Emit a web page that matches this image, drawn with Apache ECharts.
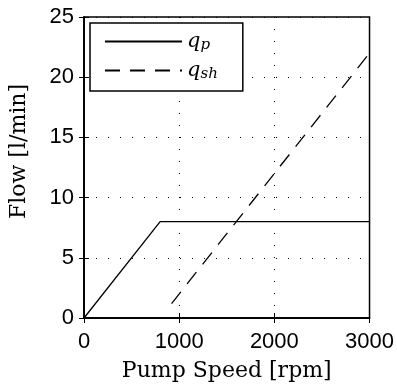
<!DOCTYPE html>
<html><head><meta charset="utf-8">
<script src="https://cdn.jsdelivr.net/npm/echarts@6/dist/echarts.min.js"></script>
<style>html,body{margin:0;padding:0;background:#fff}#c{width:397px;height:387px}</style>
</head><body><div id="c"></div>
<script>
const qpSpeed = [0, 800, 3000];
const qpFlow = [0, 8, 8];
const qshSpeed = [920, 3000];
const qshFlow = [1.2, 22];
const xTicks = [0, 1000, 2000, 3000];
const yTicks = [0, 5, 10, 15, 20, 25];

const chart = echarts.init(document.getElementById('c'), null, {renderer: 'canvas'});
const serif = 'DejaVu Serif';
const sans = 'Liberation Sans';
const dotted = {color: '#000', width: 1, type: [1, 11]};
function pairs(xs, ys) { return xs.map((x, i) => [x, ys[i]]); }
chart.setOption({
  animation: false,
  grid: {left: 84, top: 17, right: 27, bottom: 69, show: true, borderColor: '#000', borderWidth: 1.5},
  legend: {
    left: 90, top: 23, orient: 'vertical', itemWidth: 77, itemHeight: 14, itemGap: 7,
    padding: [8, 25, 9, 14], borderColor: '#000', borderWidth: 1.5, backgroundColor: '#fff',
    itemStyle: {opacity: 0},
    textStyle: {
      fontFamily: serif, fontSize: 21, fontStyle: 'italic', color: '#000',
      rich: {
        m: {fontFamily: serif, fontSize: 21, fontStyle: 'italic', color: '#000'},
        s: {fontFamily: serif, fontSize: 15, fontStyle: 'italic', color: '#000', verticalAlign: 'bottom', padding: [8, 0, 0, 0]}
      }
    },
    formatter: function (n) { return n === 'qp' ? '{m|q}{s|p}' : '{m|q}{s|sh}'; },
    data: ['qp', 'qsh']
  },
  xAxis: [{
    type: 'value', min: 0, max: 3000, interval: 1000,
    name: 'Pump Speed [rpm]', nameLocation: 'middle', nameGap: 42,
    nameTextStyle: {fontFamily: serif, fontSize: 22, color: '#000'},
    axisLine: {show: true, lineStyle: {color: '#000', width: 1.5}},
    axisTick: {show: true, inside: true, length: 5, lineStyle: {color: '#000'}},
    axisLabel: {fontFamily: sans, fontSize: 22, color: '#000', margin: 13, formatter: v => String(v)},
    splitLine: {show: true, lineStyle: dotted}
  }, {
    type: 'value', min: 0, max: 3000, interval: 1000, position: 'top',
    axisLine: {show: true, lineStyle: {color: '#000', width: 1.5}},
    axisTick: {show: true, inside: true, length: 5, lineStyle: {color: '#000'}},
    axisLabel: {show: false}, splitLine: {show: false}
  }],
  yAxis: [{
    type: 'value', min: 0, max: 25, interval: 5,
    name: 'Flow [l/min]', nameLocation: 'middle', nameGap: 54,
    nameTextStyle: {fontFamily: serif, fontSize: 22, color: '#000', padding: [0, 0, 0, 32]},
    axisLine: {show: true, lineStyle: {color: '#000', width: 1.5}},
    axisTick: {show: true, inside: true, length: 5, lineStyle: {color: '#000'}},
    axisLabel: {fontFamily: sans, fontSize: 22, color: '#000', margin: 10, formatter: v => String(v)},
    splitLine: {show: true, lineStyle: dotted}
  }, {
    type: 'value', min: 0, max: 25, interval: 5, position: 'right',
    axisLine: {show: true, lineStyle: {color: '#000', width: 1.5}},
    axisTick: {show: true, inside: true, length: 5, lineStyle: {color: '#000'}},
    axisLabel: {show: false}, splitLine: {show: false}
  }],
  series: [{
    name: 'qp', type: 'line', data: pairs(qpSpeed, qpFlow), showSymbol: false, symbol: 'none',
    lineStyle: {color: '#000', width: 1.3}, itemStyle: {color: '#000'}
  }, {
    name: 'qsh', type: 'line', data: pairs(qshSpeed, qshFlow), showSymbol: false, symbol: 'none',
    lineStyle: {color: '#000', width: 1.3, type: [15, 10]}, itemStyle: {color: '#000'}
  }]
});
</script></body></html>
